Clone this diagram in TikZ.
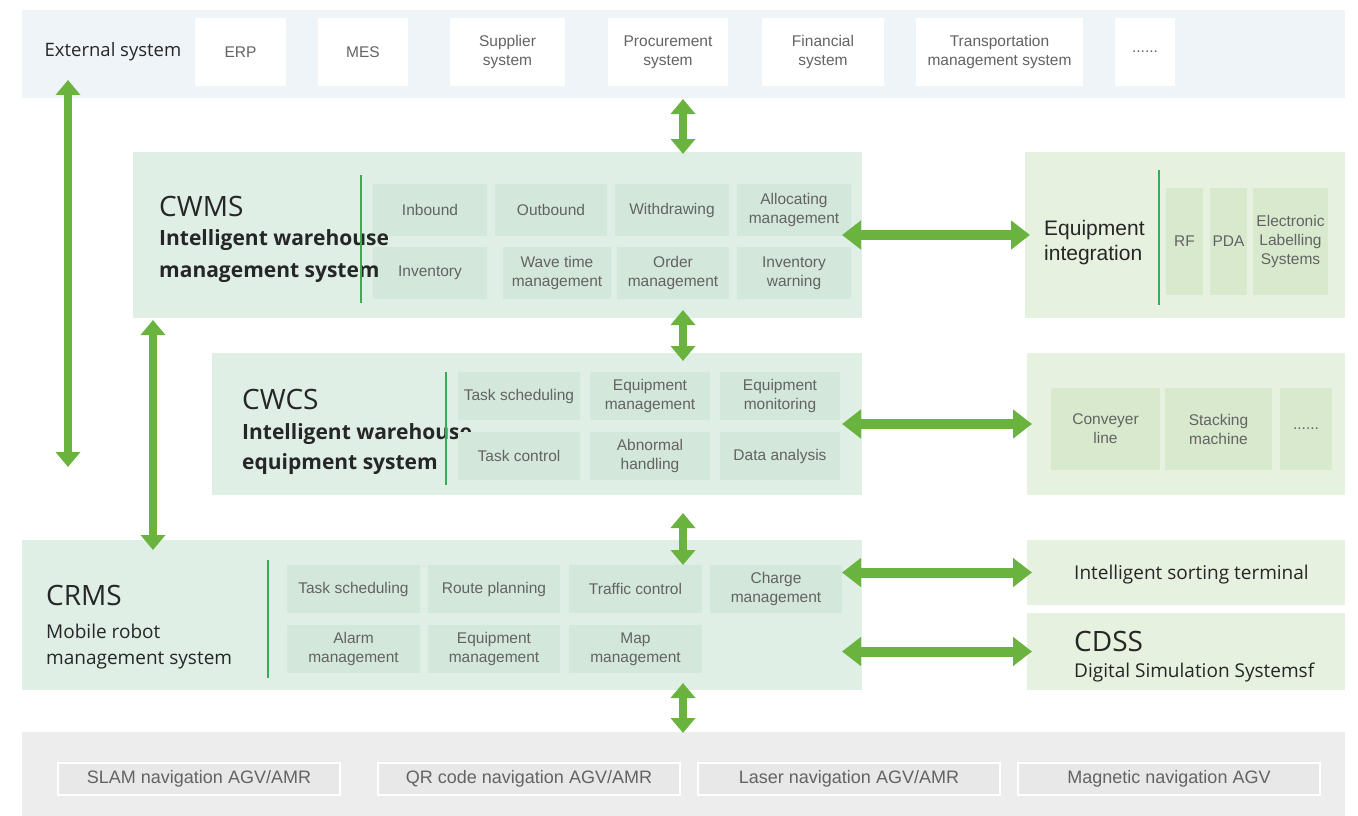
\documentclass[tikz,border=0pt]{standalone}
\usepackage{fontspec}
\setmainfont{Liberation Sans}
\newfontfamily\titlefont{Open Sans}
\usetikzlibrary{arrows.meta,calc}
\definecolor{topband}{HTML}{EEF4F7}
\definecolor{mainfill}{HTML}{DFEFE5}
\definecolor{maincell}{HTML}{D3E7DA}
\definecolor{rightfill}{HTML}{E7F1DF}
\definecolor{rightcell}{HTML}{D8E9CE}
\definecolor{botband}{HTML}{EDEDED}
\definecolor{botcell}{HTML}{E8E8E8}
\definecolor{agreen}{HTML}{6AB33E}
\definecolor{vgreen}{HTML}{3DAA5A}
\definecolor{titlecol}{HTML}{262626}
\definecolor{cellcol}{HTML}{636363}
\begin{document}
\begin{tikzpicture}[x=1pt,y=-1pt,
  blk/.style={rectangle,inner sep=0pt,outer sep=0pt},
  band/.style={blk,fill=topband},
  wbox/.style={blk,fill=white,text=cellcol,align=center,font=\fontsize{15.5}{19}\selectfont},
  mainbox/.style={blk,fill=mainfill},
  rightbox/.style={blk,fill=rightfill},
  mcell/.style={blk,fill=maincell,text=cellcol,align=center,font=\fontsize{15.5}{19}\selectfont},
  rcell/.style={blk,fill=rightcell,text=cellcol,align=center,font=\fontsize{15.5}{19}\selectfont},
  bcell/.style={blk,fill=botcell,draw=white,line width=2.5pt,text=cellcol,font=\fontsize{18}{22}\selectfont},
  ttl/.style={anchor=base west,inner sep=0pt,text=titlecol},
  bigT/.style={ttl,font=\titlefont\fontsize{28}{32}\selectfont},
  boldT/.style={ttl,font=\titlefont\bfseries\fontsize{21}{25}\selectfont},
  regT/.style={ttl,font=\titlefont\fontsize{19}{24}\selectfont},
  vsep/.style={draw=vgreen,line width=1.2pt},
  vdbl/.style={draw=agreen,line width=8pt,{Triangle[width=24pt,length=15pt]}-{Triangle[width=24pt,length=15pt]}},
  hdbl/.style={draw=agreen,line width=10pt,{Triangle[width=28pt,length=19pt]}-{Triangle[width=28pt,length=19pt]}}
]
\useasboundingbox (0,0) rectangle (1358,816);
\fill[white] (0,0) rectangle (1358,816);

% ---------- top band ----------
\node[band,minimum width=1323pt,minimum height=88pt] (top) at (683.5,54) {};
\node[inner sep=0pt,text=titlecol,font=\titlefont\fontsize{18.5}{22}\selectfont] (ext) at (113,52) {External system};
\node[wbox,minimum width=91pt,minimum height=68pt] (erp) at (240.5,52) {ERP};
\node[wbox,minimum width=90pt,minimum height=68pt] (mes) at (363,52) {MES};
\node[wbox,minimum width=115pt,minimum height=68pt] (sup) at (507.5,52) {Supplier\\system};
\node[wbox,minimum width=120pt,minimum height=68pt] (pro) at (668,52) {Procurement\\system};
\node[wbox,minimum width=122pt,minimum height=68pt] (fin) at (823,52) {Financial\\system};
\node[wbox,minimum width=167pt,minimum height=68pt] (tra) at (999.5,52) {Transportation\\management system};
\node[wbox,minimum width=60pt,minimum height=68pt] (dots1) at (1145,52) {......};

% ---------- CWMS ----------
\node[mainbox,minimum width=729pt,minimum height=166pt] (cwms) at (497.5,235) {};
\node[mcell,minimum width=114pt,minimum height=52pt] (inb) at (430,210) {Inbound};
\node[mcell,minimum width=112pt,minimum height=52pt] (outb) at (551,210) {Outbound};
\node[mcell,minimum width=114pt,minimum height=52pt] (wdr) at (672,210) {Withdrawing};
\node[mcell,minimum width=114pt,minimum height=52pt] (alc) at (794,210) {Allocating\\management};
\node[mcell,minimum width=114pt,minimum height=52pt] (inv) at (430,273) {Inventory};
\node[mcell,minimum width=108pt,minimum height=52pt] (wav) at (557,273) {Wave time\\management};
\node[mcell,minimum width=112pt,minimum height=52pt] (ord) at (673,273) {Order\\management};
\node[mcell,minimum width=114pt,minimum height=52pt] (ivw) at (794,273) {Inventory\\warning};
\node[bigT] (cwmsT) at (159,216) {CWMS};
\node[boldT] (cwmsA) at (159,245) {Intelligent warehouse};
\node[boldT] (cwmsB) at (159,277) {management system};
\coordinate (cwmsL1) at (361,175);
\coordinate (cwmsL2) at (361,303);
\draw[vsep] (cwmsL1) -- (cwmsL2);

% ---------- Equipment integration ----------
\node[rightbox,minimum width=320pt,minimum height=166pt] (eqi) at (1185,235) {};
\node[anchor=west,inner sep=0pt,text=titlecol,align=left,font=\fontsize{21}{25}\selectfont] (eqiT) at (1044,243) {Equipment\\integration};
\coordinate (eqiL1) at (1159,170);
\coordinate (eqiL2) at (1159,305);
\draw[vsep] (eqiL1) -- (eqiL2);
\node[rcell,minimum width=37pt,minimum height=107pt] (rf) at (1184.5,241.5) {RF};
\node[rcell,minimum width=37pt,minimum height=107pt] (pda) at (1228.5,241.5) {PDA};
\node[rcell,minimum width=75pt,minimum height=107pt] (els) at (1290.5,241.5) {Electronic\\Labelling\\Systems};

% ---------- CWCS ----------
\node[mainbox,minimum width=650pt,minimum height=142pt] (cwcs) at (537,424) {};
\node[bigT] (cwcsT) at (242,409) {CWCS};
\node[boldT] (cwcsA) at (242,439) {Intelligent warehouse};
\node[boldT] (cwcsB) at (242,469) {equipment system};
\coordinate (cwcsL1) at (446,372);
\coordinate (cwcsL2) at (446,485);
\node[mcell,minimum width=122pt,minimum height=48pt] (tsk1) at (519,396) {Task scheduling};
\node[mcell,minimum width=120pt,minimum height=48pt] (eqm1) at (650,396) {Equipment\\management};
\node[mcell,minimum width=120pt,minimum height=48pt] (eqmo) at (780,396) {Equipment\\monitoring};
\node[mcell,minimum width=122pt,minimum height=48pt] (tskc) at (519,456) {Task control};
\node[mcell,minimum width=120pt,minimum height=48pt] (abn) at (650,456) {Abnormal\\handling};
\node[mcell,minimum width=120pt,minimum height=48pt] (dat) at (780,456) {Data analysis};
\draw[vsep] (cwcsL1) -- (cwcsL2);

% ---------- equipment list ----------
\node[rightbox,minimum width=318pt,minimum height=142pt] (eql) at (1186,424) {};
\node[rcell,minimum width=109pt,minimum height=82pt] (conv) at (1105.5,429) {Conveyer\\line};
\node[rcell,minimum width=107pt,minimum height=82pt] (stk) at (1218.5,429) {Stacking\\machine};
\node[rcell,minimum width=52pt,minimum height=82pt] (dots2) at (1306,429) {......};

% ---------- CRMS ----------
\node[mainbox,minimum width=840pt,minimum height=150pt] (crms) at (442,615) {};
\node[bigT] (crmsT) at (46,605) {CRMS};
\node[regT] (crmsA) at (46,638) {Mobile robot};
\node[regT] (crmsB) at (46,664) {management system};
\coordinate (crmsL1) at (268,560);
\coordinate (crmsL2) at (268,678);
\draw[vsep] (crmsL1) -- (crmsL2);
\node[mcell,minimum width=133pt,minimum height=48pt] (tsk2) at (353.5,589) {Task scheduling};
\node[mcell,minimum width=132pt,minimum height=48pt] (rte) at (494,589) {Route planning};
\node[mcell,minimum width=133pt,minimum height=48pt] (trf) at (635.5,589) {Traffic control};
\node[mcell,minimum width=132pt,minimum height=48pt] (chg) at (776,589) {Charge\\management};
\node[mcell,minimum width=133pt,minimum height=48pt] (alm) at (353.5,649) {Alarm\\management};
\node[mcell,minimum width=132pt,minimum height=48pt] (eqm2) at (494,649) {Equipment\\management};
\node[mcell,minimum width=133pt,minimum height=48pt] (map) at (635.5,649) {Map\\management};

% ---------- sorting terminal & CDSS ----------
\node[rightbox,minimum width=318pt,minimum height=65pt] (ist) at (1186,572.5) {};
\node[regT] (istT) at (1074,579) {Intelligent sorting terminal};
\node[rightbox,minimum width=318pt,minimum height=77pt] (cdss) at (1186,651.5) {};
\node[bigT] (cdssT) at (1074,651) {CDSS};
\node[regT] (cdssB) at (1074,677) {Digital Simulation Systemsf};

% ---------- bottom band ----------
\node[blk,fill=botband,minimum width=1323pt,minimum height=84pt] (bot) at (683.5,774) {};
\node[bcell,minimum width=282pt,minimum height=32pt] (slam) at (199,779) {SLAM navigation AGV/AMR};
\node[bcell,minimum width=302pt,minimum height=32pt] (qr) at (529,779) {QR code navigation AGV/AMR};
\node[bcell,minimum width=302pt,minimum height=32pt] (las) at (849,779) {Laser navigation AGV/AMR};
\node[bcell,minimum width=302pt,minimum height=32pt] (mag) at (1169,779) {Magnetic navigation AGV};

% ---------- arrows ----------
\coordinate (ax) at (683,0);
\draw[vdbl] ([yshift=-1pt]top.south -| ax) -- ([yshift=-2pt]cwms.north -| ax);
\draw[vdbl] ([yshift=8pt]cwms.south -| ax) -- ([yshift=-8pt]cwcs.north -| ax);
\draw[vdbl] ([yshift=-18pt]cwcs.south -| ax) -- ([yshift=-25pt]crms.north -| ax);
\draw[vdbl] ([yshift=7pt]crms.south -| ax) -- ([yshift=-1pt]bot.north -| ax);
\coordinate (la1) at (68,80);
\coordinate (la2) at (68,467);
\draw[vdbl] (la1) -- (la2);
\coordinate (lb) at (153,0);
\draw[vdbl] ([yshift=-2pt]cwms.south -| lb) -- ([yshift=-10pt]crms.north -| lb);
\draw[hdbl] ([xshift=-20pt]cwms.east) -- ([xshift=5pt]eqi.west);
\draw[hdbl] ([xshift=-20pt]cwcs.east) -- ([xshift=5pt]eql.west);
\draw[hdbl] ([xshift=-20pt]crms.east |- ist.west) -- ([xshift=5pt]ist.west);
\draw[hdbl] ([xshift=-20pt]crms.east |- cdss.west) -- ([xshift=5pt]cdss.west);
\end{tikzpicture}
\end{document}
